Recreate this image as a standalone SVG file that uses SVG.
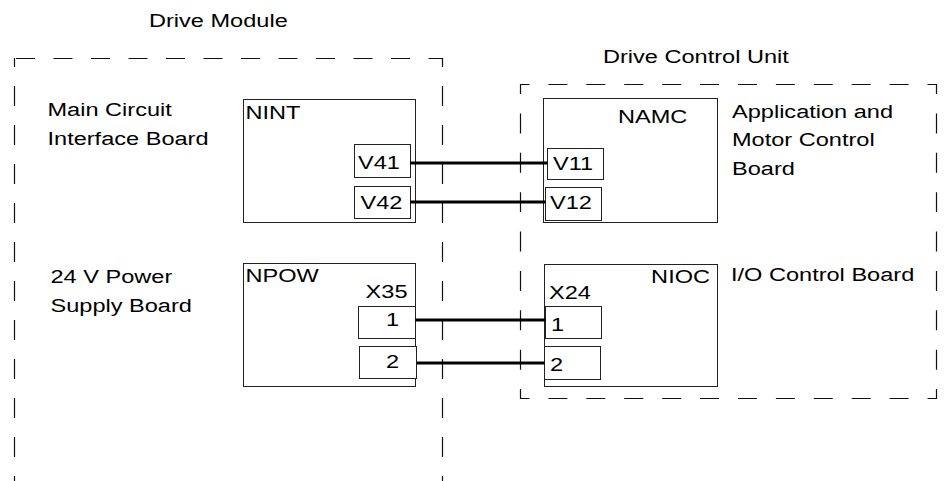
<svg xmlns="http://www.w3.org/2000/svg" width="944" height="481" viewBox="0 0 944 481">
<style>
text{font-family:"Liberation Sans",Arial,Helvetica,sans-serif;font-size:19px;fill:#000}
.end{text-anchor:end}
.box{fill:none;stroke:#222;stroke-width:1}
.port{fill:#fff;stroke:#222;stroke-width:1}
.wire{stroke:#000;stroke-width:3;fill:none}
.dash{stroke:#111;stroke-width:1.2;fill:none}
</style>
<rect width="944" height="481" fill="#fff"/>
<g id="drive-module">
<line class="dash" x1="14" y1="58.5" x2="443" y2="58.5" stroke-dasharray="19 18.5" stroke-dashoffset="-2"/>
<line class="dash" x1="14.5" y1="58" x2="14.5" y2="481" stroke-dasharray="20 19" stroke-dashoffset="11"/>
<line class="dash" x1="442.5" y1="58" x2="442.5" y2="481" stroke-dasharray="20 19" stroke-dashoffset="11"/>
<text transform="translate(149,26.5) scale(1.24,1)">Drive Module</text>
<text transform="translate(47.5,116) scale(1.24,1)">Main Circuit</text>
<text transform="translate(47.5,144.5) scale(1.24,1)">Interface Board</text>
<text transform="translate(50.5,283.3) scale(1.24,1)">24 V Power</text>
<text transform="translate(50.5,312) scale(1.24,1)">Supply Board</text>
</g>
<g id="drive-control-unit">
<line class="dash" x1="520" y1="84.5" x2="937" y2="84.5" stroke-dasharray="19 18.91" stroke-dashoffset="9.5"/>
<line class="dash" x1="520" y1="398.5" x2="937" y2="398.5" stroke-dasharray="19 18.91" stroke-dashoffset="9.5"/>
<line class="dash" x1="520.5" y1="84" x2="520.5" y2="399" stroke-dasharray="20 19.375" stroke-dashoffset="10"/>
<line class="dash" x1="936.5" y1="84" x2="936.5" y2="399" stroke-dasharray="20 19.375" stroke-dashoffset="10"/>
<text transform="translate(603,62.5) scale(1.24,1)">Drive Control Unit</text>
<text transform="translate(732,117.5) scale(1.24,1)">Application and</text>
<text transform="translate(732,146) scale(1.24,1)">Motor Control</text>
<text transform="translate(732,175) scale(1.24,1)">Board</text>
<text transform="translate(731,281) scale(1.24,1)">I/O Control Board</text>
</g>
<g id="NINT">
<rect class="box" x="243.5" y="99.5" width="172" height="123"/>
<text transform="translate(245.5,119) scale(1.24,1)">NINT</text>
<rect class="port" x="354.5" y="144.5" width="56" height="33"/>
<text transform="translate(358,169) scale(1.24,1)">V41</text>
<rect class="port" x="354.5" y="186.5" width="56" height="32"/>
<text transform="translate(360.5,209.3) scale(1.24,1)">V42</text>
</g>
<g id="NAMC">
<rect class="box" x="543.5" y="98.5" width="174" height="124"/>
<text transform="translate(618,123.3) scale(1.24,1)">NAMC</text>
<rect class="port" x="547.5" y="148.5" width="56" height="31"/>
<text transform="translate(553,170) scale(1.24,1)">V11</text>
<rect class="port" x="545.5" y="187.5" width="56" height="33"/>
<text transform="translate(550,209.3) scale(1.24,1)">V12</text>
</g>
<g id="NPOW">
<rect class="box" x="243.5" y="263.5" width="172" height="123"/>
<text transform="translate(245.5,282.3) scale(1.24,1)">NPOW</text>
<text class="end" transform="translate(407.5,297.7) scale(1.24,1)">X35</text>
<rect class="port" x="358.5" y="306.5" width="57" height="32"/>
<text transform="translate(386,326) scale(1.24,1)">1</text>
<rect class="port" x="359.5" y="346.5" width="57" height="32"/>
<text transform="translate(386,368.3) scale(1.24,1)">2</text>
</g>
<g id="NIOC">
<rect class="box" x="544.5" y="264.5" width="173" height="122"/>
<text class="end" transform="translate(710,283.3) scale(1.24,1)">NIOC</text>
<text transform="translate(549,299) scale(1.24,1)">X24</text>
<rect class="port" x="545.5" y="306.5" width="56" height="32"/>
<text transform="translate(551,330.7) scale(1.24,1)">1</text>
<rect class="port" x="544.5" y="346.5" width="56" height="33"/>
<text transform="translate(550,370.7) scale(1.24,1)">2</text>
</g>
<g id="connectors">
<line class="wire" x1="410.5" y1="163" x2="547.5" y2="163"/>
<line class="wire" x1="410.5" y1="202" x2="545.5" y2="202"/>
<line class="wire" x1="415.5" y1="320" x2="545.5" y2="320"/>
<line class="wire" x1="416.5" y1="363" x2="544.5" y2="363"/>
</g>
</svg>
